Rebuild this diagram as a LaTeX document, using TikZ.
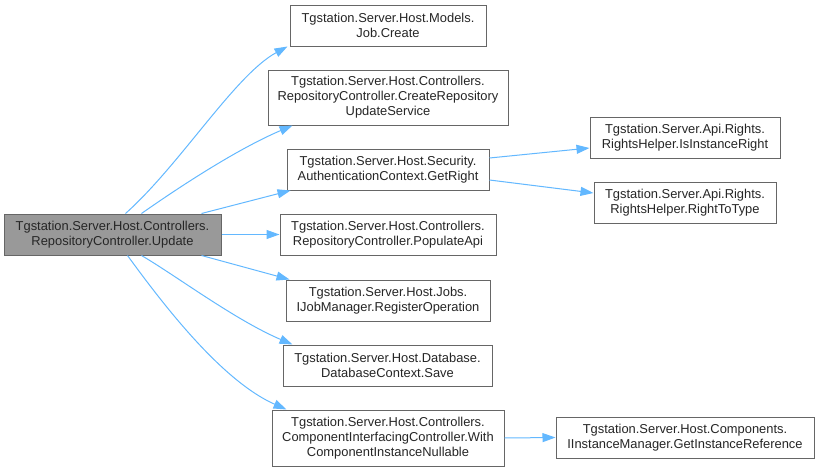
\documentclass[tikz,border=0pt]{standalone}
\usepackage{fontspec}
\setmainfont{Liberation Sans}
\usetikzlibrary{arrows.meta}
\definecolor{edgec}{HTML}{63B8FF}
\definecolor{borderc}{HTML}{666666}
\definecolor{startc}{HTML}{999999}
\tikzset{
  fn/.style={draw=borderc, line width=1pt, fill=white, align=center, inner sep=0pt,
    font=\fontsize{12.9}{15}\selectfont, text=black!85},
  startfn/.style={fn, fill=startc},
  call/.style={draw=edgec, line width=1pt, -{Triangle[length=13pt,width=9pt]}}
}
\begin{document}
\begin{tikzpicture}[x=1pt,y=-1pt]
\useasboundingbox (0,0) rectangle (820,471);
\node[startfn, minimum width=217, minimum height=41] (upd) at (112.5,234.5) {Tgstation.Server.Host.Controllers.\\RepositoryController.Update};
\node[fn, minimum width=196, minimum height=41] (job) at (388,25.5) {Tgstation.Server.Host.Models.\\Job.Create};
\node[fn, minimum width=240, minimum height=55] (crs) at (388,97.5) {Tgstation.Server.Host.Controllers.\\RepositoryController.CreateRepository\\UpdateService};
\node[fn, minimum width=202, minimum height=41] (gr) at (388,169.5) {Tgstation.Server.Host.Security.\\AuthenticationContext.GetRight};
\node[fn, minimum width=216, minimum height=41] (pop) at (388,234.5) {Tgstation.Server.Host.Controllers.\\RepositoryController.PopulateApi};
\node[fn, minimum width=204, minimum height=41] (reg) at (388,300.5) {Tgstation.Server.Host.Jobs.\\IJobManager.RegisterOperation};
\node[fn, minimum width=209, minimum height=41] (sav) at (387.5,365.5) {Tgstation.Server.Host.Database.\\DatabaseContext.Save};
\node[fn, minimum width=232, minimum height=56] (wc) at (388,438) {Tgstation.Server.Host.Controllers.\\ComponentInterfacingController.With\\ComponentInstanceNullable};
\node[fn, minimum width=190, minimum height=41] (iir) at (685,137.5) {Tgstation.Server.Api.Rights.\\RightsHelper.IsInstanceRight};
\node[fn, minimum width=182, minimum height=41] (rtt) at (685,202.5) {Tgstation.Server.Api.Rights.\\RightsHelper.RightToType};
\node[fn, minimum width=258, minimum height=41] (gir) at (685,437.5) {Tgstation.Server.Host.Components.\\IInstanceManager.GetInstanceReference};

\draw[call] ([xshift=122pt]upd.north west) .. controls (180,165) and (235,75) .. ([xshift=-2pt]job.south west);
\draw[call] ([xshift=138pt]upd.north west) .. controls (175,190) and (235,150) .. ([xshift=25pt]crs.south west);
\draw[call] ([xshift=198pt]upd.north west) -- ([xshift=4pt]gr.south west);
\draw[call] (upd.east) -- (pop.west);
\draw[call] ([xshift=198pt]upd.south west) -- ([xshift=4pt]reg.north west);
\draw[call] ([xshift=138pt]upd.south west) .. controls (175,275) and (235,320) .. ([xshift=10pt]sav.north west);
\draw[call] ([xshift=124pt]upd.south west) .. controls (160,300) and (220,380) .. ([xshift=15pt]wc.north west);
\draw[call] ([yshift=11.5pt]gr.east) -- ([yshift=-10.5pt]iir.west);
\draw[call] ([yshift=-10.5pt]gr.east) -- ([yshift=9.5pt]rtt.west);
\draw[call] (wc.east) -- (gir.west);
\end{tikzpicture}
\end{document}
